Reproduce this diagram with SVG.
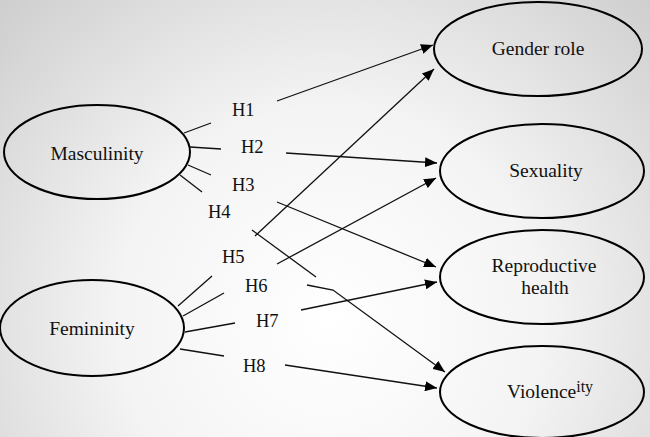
<svg xmlns="http://www.w3.org/2000/svg" width="650" height="437" viewBox="0 0 650 437">
<defs>
<radialGradient id="bg" cx="330" cy="320" r="470" gradientUnits="userSpaceOnUse">
<stop offset="0" stop-color="#ffffff"/>
<stop offset="0.45" stop-color="#f4f4f4"/>
<stop offset="1" stop-color="#cccccc"/>
</radialGradient>
<marker id="arr" viewBox="0 0 12 10" refX="12" refY="5" markerWidth="12" markerHeight="10" markerUnits="userSpaceOnUse" orient="auto">
<path d="M0,0 L12,5 L0,10 Z" fill="#000"/>
</marker>
</defs>
<style>
.node{fill:none;stroke:#000;stroke-width:2}
.t{font-size:19.5px;fill:#111;text-anchor:middle}
.h{font-size:18.5px;fill:#111}
.c{fill:none;stroke:#111;stroke-width:1.3}
.a{fill:none;stroke:#111;stroke-width:1.3;marker-end:url(#arr)}
</style>
<rect width="650" height="437" fill="url(#bg)"/>
<g font-family="Liberation Serif, DejaVu Serif, serif">
<g id="masculinity"><ellipse class="node" cx="97" cy="152" rx="93" ry="47"/><text class="t" x="97" y="160">Masculinity</text></g>
<g id="femininity"><ellipse class="node" cx="92" cy="328" rx="92" ry="48"/><text class="t" x="92" y="335">Femininity</text></g>
<g id="gender-role"><ellipse class="node" cx="538" cy="49" rx="104" ry="47"/><text class="t" x="538" y="55">Gender role</text></g>
<g id="sexuality"><ellipse class="node" cx="542" cy="171" rx="102" ry="47"/><text class="t" x="546" y="177">Sexuality</text></g>
<g id="reproductive-health"><ellipse class="node" cx="542" cy="277" rx="102" ry="47"/><text class="t" x="544" y="272">Reproductive</text><text class="t" x="545" y="294">health</text></g>
<g id="violence"><ellipse class="node" cx="542" cy="392" rx="102" ry="46"/><text class="t" x="507" y="398" style="text-anchor:start">Violence<tspan dy="-6" style="font-size:16px">ity</tspan></text></g>
<g id="connectors">
<line class="c" x1="184" y1="133" x2="211" y2="123"/>
<line class="c" x1="190" y1="147" x2="221" y2="149"/>
<line class="c" x1="188" y1="165" x2="211" y2="175"/>
<line class="c" x1="180" y1="175" x2="202" y2="192"/>
<line class="c" x1="178" y1="306" x2="212" y2="276"/>
<line class="c" x1="183" y1="316" x2="224" y2="293"/>
<line class="c" x1="185" y1="332" x2="235" y2="323"/>
<line class="c" x1="180" y1="349" x2="224" y2="356"/>
<line class="a" x1="277" y1="101" x2="433" y2="45"/>
<line class="a" x1="255" y1="236" x2="434" y2="69"/>
<line class="a" x1="286" y1="153" x2="437" y2="163"/>
<line class="a" x1="277" y1="264" x2="436" y2="178"/>
<line class="a" x1="277" y1="202" x2="436" y2="267"/>
<line class="a" x1="301" y1="310" x2="437" y2="282"/>
<line class="c" x1="252" y1="230" x2="316" y2="277"/>
<polyline class="a" points="307,285 333,290 445,372"/>
<line class="a" x1="285" y1="365" x2="437" y2="388"/>
</g>
<g id="labels">
<text class="h" x="232" y="116">H1</text>
<text class="h" x="241" y="153">H2</text>
<text class="h" x="232" y="191">H3</text>
<text class="h" x="208" y="218">H4</text>
<text class="h" x="222" y="263">H5</text>
<text class="h" x="245" y="292">H6</text>
<text class="h" x="256" y="327">H7</text>
<text class="h" x="243" y="372">H8</text>
</g>
</g>
</svg>
